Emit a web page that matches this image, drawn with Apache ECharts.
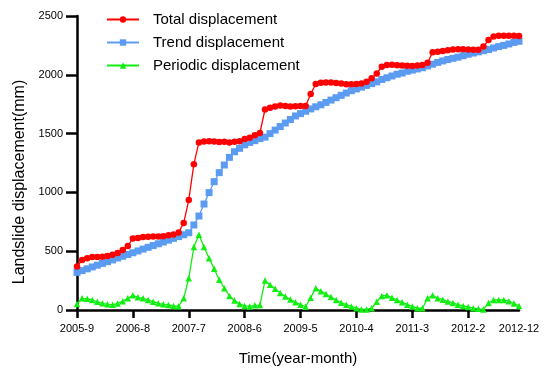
<!DOCTYPE html>
<html>
<head>
<meta charset="utf-8">
<script src="https://cdn.jsdelivr.net/npm/echarts@6/dist/echarts.min.js"></script>
<style>
html,body{margin:0;padding:0;background:#fff;}
#chart{width:550px;height:376px;}
</style>
</head>
<body>
<div id="chart"></div>
<script>
var months = [
"2005-9","2005-10","2005-11","2005-12",
"2006-1","2006-2","2006-3","2006-4","2006-5","2006-6","2006-7","2006-8","2006-9","2006-10","2006-11","2006-12",
"2007-1","2007-2","2007-3","2007-4","2007-5","2007-6","2007-7","2007-8","2007-9","2007-10","2007-11","2007-12",
"2008-1","2008-2","2008-3","2008-4","2008-5","2008-6","2008-7","2008-8","2008-9","2008-10","2008-11","2008-12",
"2009-1","2009-2","2009-3","2009-4","2009-5","2009-6","2009-7","2009-8","2009-9","2009-10","2009-11","2009-12",
"2010-1","2010-2","2010-3","2010-4","2010-5","2010-6","2010-7","2010-8","2010-9","2010-10","2010-11","2010-12",
"2011-1","2011-2","2011-3","2011-4","2011-5","2011-6","2011-7","2011-8","2011-9","2011-10","2011-11","2011-12",
"2012-1","2012-2","2012-3","2012-4","2012-5","2012-6","2012-7","2012-8","2012-9","2012-10","2012-11","2012-12"
];
var shownLabels = ["2005-9","2006-8","2007-7","2008-6","2009-5","2010-4","2011-3","2012-2","2012-12"];
var tickLabels = ["2005-9","2006-8","2007-7","2008-6","2009-5","2010-4","2011-3","2012-2"];

var totalDisp = [
370,425,440,450,450,453,460,470,485,510,545,608,612,620,622,624,625,628,635,642,660,740,
935,1240,1425,1432,1435,1432,1428,1430,1425,1430,1435,1455,1465,1485,1505,1705,1720,1730,
1738,1735,1730,1732,1735,1735,1837,1922,1932,1935,1935,1930,1925,1920,1920,1922,1925,1940,
1970,2012,2069,2083,2085,2082,2080,2078,2075,2080,2083,2103,2191,2197,2203,2208,2215,2218,
2218,2215,2212,2212,2240,2296,2325,2333,2333,2332,2332,2330
];
var trendDisp = [
320,335,350,366,381,396,411,426,442,457,472,487,502,518,533,548,563,578,594,609,624,640,
657,723,799,901,998,1091,1168,1233,1298,1346,1375,1405,1425,1440,1458,1470,1500,1530,
1560,1590,1620,1650,1670,1690,1710,1728,1745,1765,1785,1805,1825,1845,1865,1880,1895,1910,
1925,1940,1960,1975,1990,2005,2015,2030,2040,2050,2060,2075,2090,2105,2118,2130,2140,2150,
2162,2175,2185,2195,2205,2215,2228,2240,2250,2262,2275,2285
];
var periodicDisp = [
50,99,95,85,70,57,48,45,55,75,100,125,108,99,85,71,57,48,43,34,32,99,
270,535,640,535,440,350,258,185,120,80,52,35,30,40,42,250,215,180,
145,115,90,65,45,28,105,185,160,135,110,85,62,45,30,15,5,5,
15,70,120,125,105,85,65,45,30,15,15,100,125,100,88,72,60,45,
35,25,15,10,5,60,85,85,85,75,55,35
];

var chart = echarts.init(document.getElementById('chart'), null, {renderer: 'canvas'});
var FONT = 'Liberation Sans, Arial, sans-serif';
var option = {
  animation: false,
  backgroundColor: '#ffffff',
  grid: {left: 77, right: 31, top: 16, bottom: 66, containLabel: false},
  legend: {
    orient: 'vertical',
    left: 101,
    top: 7,
    itemWidth: 32,
    itemHeight: 8,
    itemGap: 8,
    textStyle: {fontFamily: FONT, fontSize: 15, color: '#000', padding: [0, 0, 0, 9]},
    data: ['Total displacement', 'Trend displacement', 'Periodic displacement']
  },
  xAxis: {
    type: 'category',
    data: months,
    boundaryGap: false,
    axisLine: {lineStyle: {color: '#000', width: 2.5}},
    axisTick: {
      show: true, length: 8, lineStyle: {color: '#000', width: 2.5},
      interval: function (i, v) { return tickLabels.indexOf(v) >= 0; }
    },
    axisLabel: {
      color: '#000', fontFamily: FONT, fontSize: 11, margin: 13,
      interval: function (i, v) { return shownLabels.indexOf(v) >= 0; }
    },
    splitLine: {show: false}
  },
  yAxis: {
    type: 'value',
    min: 0, max: 2500, interval: 500,
    axisLine: {show: true, lineStyle: {color: '#000', width: 2.5}},
    axisTick: {show: true, length: 11, lineStyle: {color: '#000', width: 2.5}},
    axisLabel: {color: '#000', fontFamily: FONT, fontSize: 11, margin: 14,
      formatter: function (v) { return String(v); }},
    splitLine: {show: false}
  },
  graphic: [
    {
      type: 'text', x: 20, y: 182, rotation: Math.PI / 2,
      style: {text: 'Landslide displacement(mm)', fontFamily: FONT, fontSize: 16, fill: '#000', align: 'center', verticalAlign: 'middle'}
    },
    {
      type: 'text', x: 298, y: 359,
      style: {text: 'Time(year-month)', fontFamily: FONT, fontSize: 15, fill: '#000', align: 'center', verticalAlign: 'middle'}
    }
  ],
  series: [
    {
      name: 'Total displacement', type: 'line', data: totalDisp, z: 5,
      symbol: 'circle', symbolSize: 6.5, showAllSymbol: true,
      itemStyle: {color: '#ff0000'}, lineStyle: {color: '#ff0000', width: 1.3}
    },
    {
      name: 'Trend displacement', type: 'line', data: trendDisp, z: 4,
      symbol: 'rect', symbolSize: 7, showAllSymbol: true,
      itemStyle: {color: '#5b9cf2'}, lineStyle: {color: '#5b9cf2', width: 1.3}
    },
    {
      name: 'Periodic displacement', type: 'line', data: periodicDisp, z: 3,
      symbol: 'triangle', symbolSize: 6.5, showAllSymbol: true,
      itemStyle: {color: '#11ee11'}, lineStyle: {color: '#11ee11', width: 1.3}
    }
  ]
};
chart.setOption(option);
</script>
</body>
</html>
